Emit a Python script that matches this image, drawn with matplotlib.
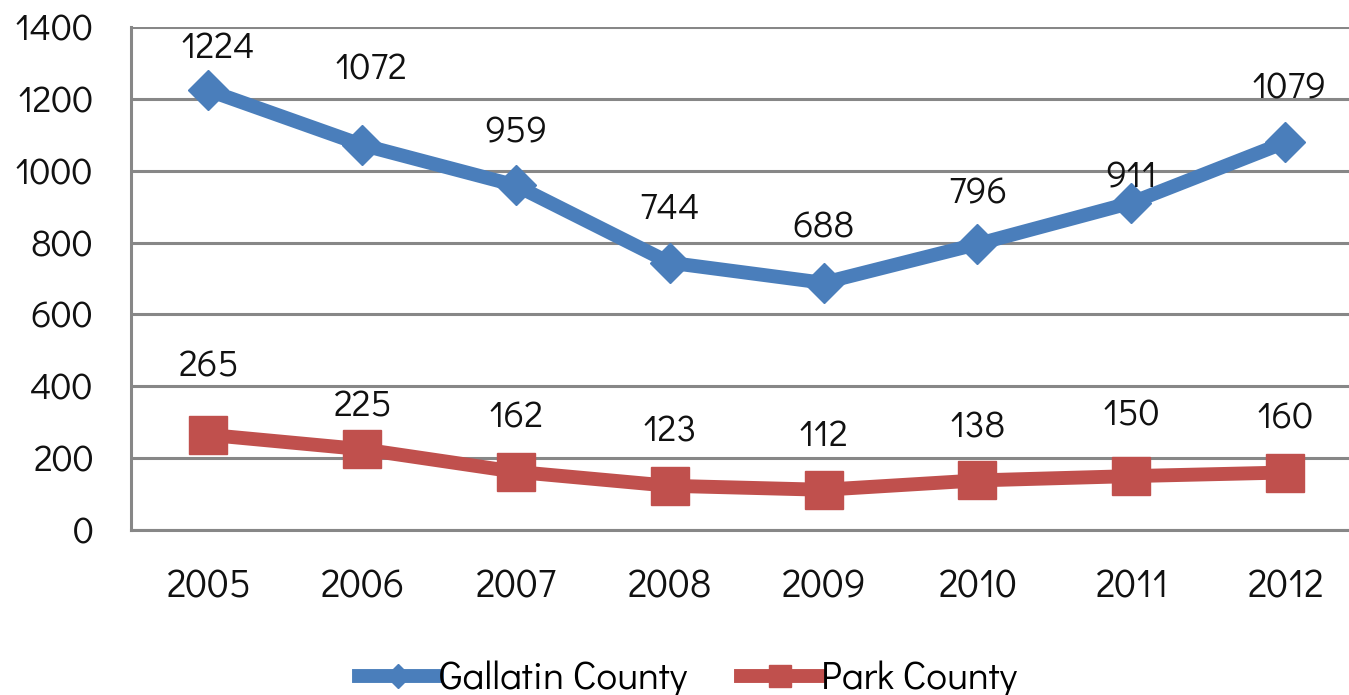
import matplotlib.pyplot as plt

years = ['2005', '2006', '2007', '2008', '2009', '2010', '2011', '2012']
gallatin = [1224, 1072, 959, 744, 688, 796, 911, 1079]
park = [265, 225, 162, 123, 112, 138, 150, 160]

# label offsets in pixels (dx, dy), labels were nudged by hand in the original
gallatin_off = [(10, 42), (9, 75), (0, 53), (0, 54), (0, 55), (0, 51), (0, 25), (4, 54)]
park_off = [(0, 68), (0, 43), (0, 54), (0, 54), (0, 54), (0, 53), (0, 61), (0, 54)]

blue = '#4a7ebb'
red = '#c0504d'
grid = '#878787'

# thin geometric face close to Century Gothic, with fallbacks
plt.rcParams['font.family'] = ['Didact Gothic', 'Questrial', 'Lato', 'DejaVu Sans']

fig = plt.figure(figsize=(13.49, 6.95), dpi=100)
ax = fig.add_axes([131 / 1349, 165 / 695, 1218 / 1349, 503 / 695])

x = range(len(years))
ax.plot(x, gallatin, color=blue, lw=10, marker='D', ms=20, mec=blue,
        mfc=blue, label='Gallatin County', zorder=3)
ax.plot(x, park, color=red, lw=10, marker='s', ms=27, mec=red,
        mfc=red, label='Park County', zorder=3)

for i, v in enumerate(gallatin):
    ax.annotate(str(v), (i, v), xytext=gallatin_off[i], textcoords='offset pixels',
                ha='center', va='center', fontsize=27, color='#111111')
for i, v in enumerate(park):
    ax.annotate(str(v), (i, v), xytext=park_off[i], textcoords='offset pixels',
                ha='center', va='center', fontsize=27, color='#111111')

ax.set_xlim(-0.5, 7.414)
ax.set_ylim(0, 1400)
ax.set_yticks(range(0, 1401, 200))
ax.set_xticks(list(x))
ax.set_xticklabels(years)
ax.yaxis.grid(True, color=grid, lw=2.2)
ax.set_axisbelow(True)
ax.tick_params(axis='y', length=0, pad=27, labelsize=27, labelcolor='#111111')
ax.tick_params(axis='x', length=0, pad=28, labelsize=28, labelcolor='#111111')
for s in ['top', 'right']:
    ax.spines[s].set_visible(False)
for s in ['left', 'bottom']:
    ax.spines[s].set_color(grid)
    ax.spines[s].set_linewidth(2.2)

leg = fig.legend(loc='center', bbox_to_anchor=(688 / 1349, 16 / 695), ncol=2,
                 frameon=False, fontsize=28, handlelength=2.0, handletextpad=0.05,
                 columnspacing=1.4, markerscale=0.6)

fig.savefig('out.png', dpi=100)
